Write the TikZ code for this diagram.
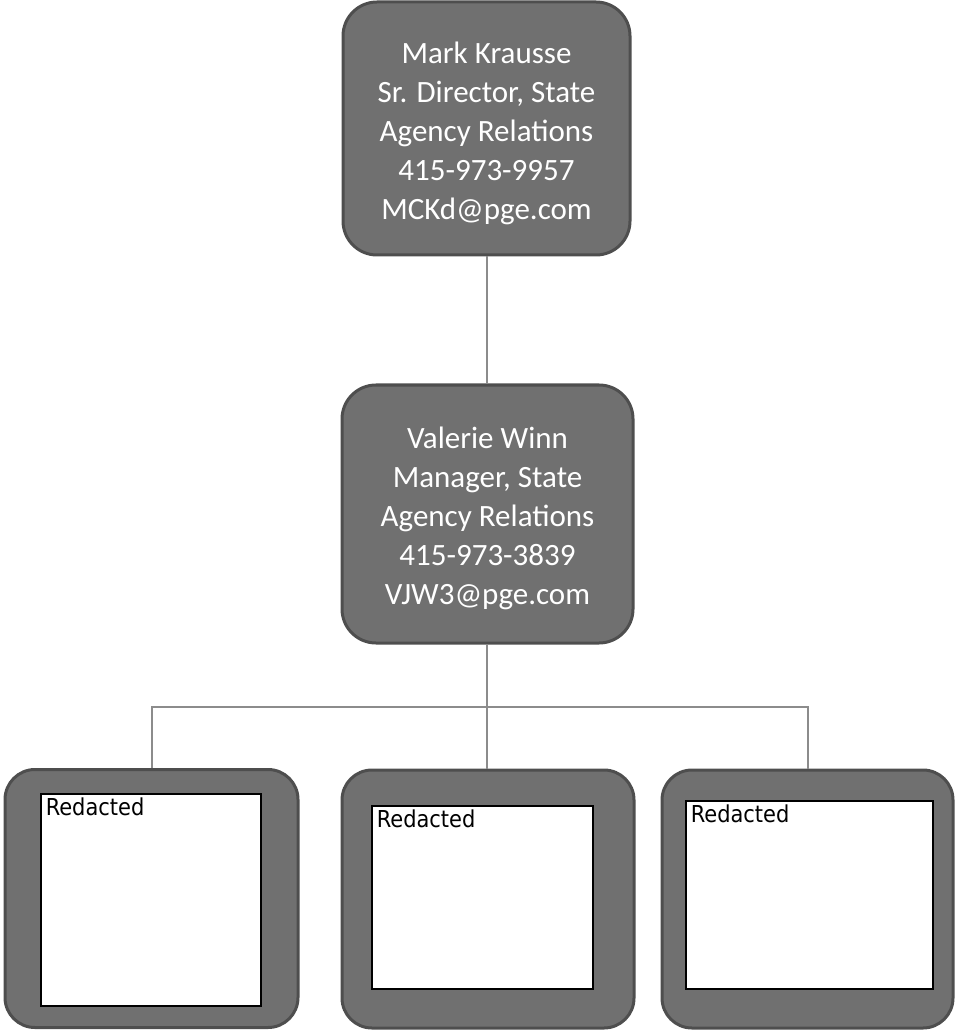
\documentclass[tikz,border=0pt]{standalone}
\usepackage{fontspec}
\setmainfont{Carlito}
\newfontfamily\tagfont{DejaVu Sans Condensed}
\usetikzlibrary{positioning}
\definecolor{boxgray}{RGB}{112,112,112}
\definecolor{rimgray}{RGB}{78,78,78}
\definecolor{linegray}{RGB}{140,140,140}

\begin{document}
\begin{tikzpicture}[x=0.5pt,y=-0.5pt,
    person/.style={draw=rimgray,line width=1.5pt,fill=boxgray,rounded corners=17pt,
      minimum width=143.5pt,minimum height=126.5pt,inner sep=0pt},
    persontext/.style={text=white,align=center,inner sep=0pt,
      font=\fontsize{15.5}{19.5}\selectfont},
    staffbox/.style={draw=rimgray,line width=1.5pt,fill=boxgray,rounded corners=15pt,
      minimum height=129pt,inner sep=0pt},
    blank/.style={draw=black,line width=0.6pt,fill=white,inner sep=0pt},
    tag/.style={anchor=north west,inner xsep=2.5pt,inner ysep=2pt,
      font=\tagfont\fontsize{11.65}{14}\selectfont},
    link/.style={draw=linegray,line width=1pt}]
  \useasboundingbox (0,0) rectangle (954,1031);
  % people
  \node[person] (mark) at (486.5,128.5) {};
  \node[person,minimum width=145.5pt,minimum height=129pt] (valerie) at (487.5,514) {};
  \node[persontext] (marktext) at ([yshift=-2.5pt]mark.center) {Mark Krausse\\Sr. Director, State\\Agency Relations\\415-973-9957\\MCKd@pge.com};
  \node[persontext] (valerietext) at ([yshift=-2.3pt]valerie.center) {Valerie Winn\\Manager, State\\Agency Relations\\415-973-3839\\VJW3@pge.com};
  % redacted staff
  \node[staffbox,minimum width=146.5pt] (redA) at (151.5,898.5) {};
  \node[staffbox,minimum width=146pt] (redB) at (488,899) {};
  \node[staffbox,minimum width=145.5pt] (redC) at (807.5,899) {};
  \node[blank,minimum width=110pt,minimum height=106pt] (redAin) at (151,900) {};
  \node[blank,minimum width=110.5pt,minimum height=91.5pt] (redBin) at (482.5,897.5) {};
  \node[blank,minimum width=123.5pt,minimum height=94pt] (redCin) at (809.5,895) {};
  \node[tag] (redAtag) at (redAin.north west) {Redacted};
  \node[tag] (redBtag) at (redBin.north west) {Redacted};
  \node[tag] (redCtag) at (redCin.north west) {Redacted};
  % connectors
  \coordinate (fork) at (487,707);
  \draw[link] (mark) -- (mark |- valerie.north);
  \draw[link] (valerie.south -| fork) -- (fork);
  \draw[link] (fork) -| (redA);
  \draw[link] (fork) -| (redC);
  \draw[link] (fork) -- (fork |- redB.north);
\end{tikzpicture}
\end{document}
